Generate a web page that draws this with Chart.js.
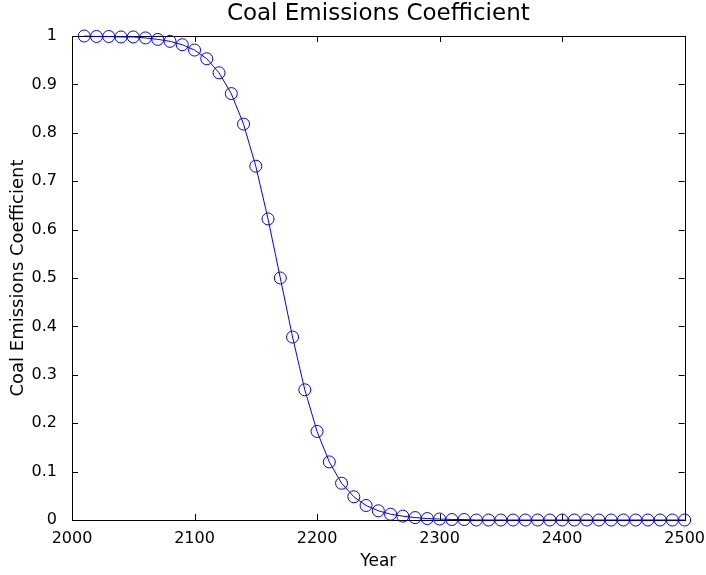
<!DOCTYPE html>
<html lang="en">
<head>
    <meta charset="UTF-8">
    <title>Coal Emissions Coefficient</title>
    <script src="https://cdn.jsdelivr.net/npm/chart.js"></script>
    <style>
        body {
            margin: 0;
            padding: 0;
            background-color: #fff;
        }
        #wrap {
            width: 706px;
            height: 575px;
        }
    </style>
</head>
<body>
    <div id="wrap">
        <canvas id="coalChart" width="706" height="575"></canvas>
    </div>

    <script>
        // data (one point every 10 years)
        const years = [
            2010, 2020, 2030, 2040, 2050, 2060, 2070, 2080, 2090, 2100,
            2110, 2120, 2130, 2140, 2150, 2160, 2170, 2180, 2190, 2200,
            2210, 2220, 2230, 2240, 2250, 2260, 2270, 2280, 2290, 2300,
            2310, 2320, 2330, 2340, 2350, 2360, 2370, 2380, 2390, 2400,
            2410, 2420, 2430, 2440, 2450, 2460, 2470, 2480, 2490, 2500
        ];
        const coalCoef = [
            1.000, 0.999, 0.999, 0.998, 0.998, 0.996, 0.993, 0.989, 0.982, 0.971,
            0.953, 0.924, 0.881, 0.818, 0.731, 0.622, 0.500, 0.378, 0.269, 0.183,
            0.120, 0.076, 0.048, 0.030, 0.019, 0.012, 0.008, 0.005, 0.003, 0.002,
            0.001, 0.001, 0.000, 0.000, 0.000, 0.000, 0.000, 0.000, 0.000, 0.000,
            0.000, 0.000, 0.000, 0.000, 0.000, 0.000, 0.000, 0.000, 0.000, 0.000
        ];
        const xTicks = [2000, 2100, 2200, 2300, 2400, 2500];
        const yTicks = [0, 0.1, 0.2, 0.3, 0.4, 0.5, 0.6, 0.7, 0.8, 0.9, 1];

        const FONT = "'DejaVu Sans', sans-serif";
        const BLUE = '#0000ff';

        // matlab style box with inward ticks
        const axesBox = {
            id: 'axesBox',
            beforeDatasetsDraw(chart) {
                const ctx = chart.ctx;
                const a = chart.chartArea;
                const xs = chart.scales.x;
                const ys = chart.scales.y;
                const len = 6;
                ctx.save();
                ctx.strokeStyle = '#000';
                ctx.lineWidth = 1;
                ctx.beginPath();
                xTicks.forEach(v => {
                    const px = Math.round(xs.getPixelForValue(v)) + 0.5;
                    ctx.moveTo(px, a.bottom);
                    ctx.lineTo(px, a.bottom - len);
                    ctx.moveTo(px, a.top);
                    ctx.lineTo(px, a.top + len);
                });
                yTicks.forEach(v => {
                    const py = Math.round(ys.getPixelForValue(v)) + 0.5;
                    ctx.moveTo(a.left, py);
                    ctx.lineTo(a.left + len, py);
                    ctx.moveTo(a.right, py);
                    ctx.lineTo(a.right - len, py);
                });
                ctx.stroke();
                ctx.strokeRect(Math.round(a.left) + 0.5, Math.round(a.top) + 0.5,
                    Math.round(a.right - a.left), Math.round(a.bottom - a.top));
                ctx.restore();
            }
        };

        const ctx = document.getElementById('coalChart').getContext('2d');
        const coalChart = new Chart(ctx, {
            type: 'line',
            data: {
                datasets: [{
                    label: 'Coal Emissions Coefficient',
                    data: years.map((y, i) => ({ x: y, y: coalCoef[i] })),
                    borderColor: BLUE,
                    borderWidth: 1,
                    backgroundColor: 'rgba(0,0,0,0)',
                    pointStyle: 'circle',
                    pointRadius: 6,
                    pointBorderWidth: 1,
                    pointBorderColor: BLUE,
                    pointBackgroundColor: 'rgba(0,0,0,0)',
                    tension: 0,
                    fill: false,
                    clip: false
                }]
            },
            options: {
                responsive: false,
                animation: false,
                layout: {
                    padding: { left: 0, right: 18, top: 0, bottom: 0 }
                },
                plugins: {
                    legend: { display: false },
                    tooltip: { enabled: false },
                    title: {
                        display: true,
                        fullSize: false,
                        text: 'Coal Emissions Coefficient',
                        color: '#000',
                        font: { family: FONT, size: 23, weight: 'normal', lineHeight: 1.2 },
                        padding: { top: 0.5, bottom: 7.9 }
                    }
                },
                scales: {
                    x: {
                        type: 'linear',
                        min: 2000,
                        max: 2500,
                        grid: { display: false },
                        border: { display: false },
                        afterBuildTicks: scale => {
                            scale.ticks = xTicks.map(v => ({ value: v }));
                        },
                        afterFit: scale => { scale.height = 55; },
                        ticks: {
                            color: '#000',
                            padding: 1,
                            maxRotation: 0,
                            font: { family: FONT, size: 16 },
                            callback: v => String(v)
                        },
                        title: {
                            display: true,
                            text: 'Year',
                            color: '#000',
                            font: { family: FONT, size: 17 },
                            padding: { top: 0, bottom: 3 }
                        }
                    },
                    y: {
                        min: 0,
                        max: 1,
                        grid: { display: false },
                        border: { display: false },
                        afterBuildTicks: scale => {
                            scale.ticks = yTicks.map(v => ({ value: v }));
                        },
                        afterFit: scale => { scale.width = 72; },
                        ticks: {
                            color: '#000',
                            padding: 7,
                            font: { family: FONT, size: 16 },
                            callback: v => String(v)
                        },
                        title: {
                            display: true,
                            text: 'Coal Emissions Coefficient',
                            color: '#000',
                            font: { family: FONT, size: 18 },
                            padding: { top: 8, bottom: 0 }
                        }
                    }
                }
            },
            plugins: [axesBox]
        });
    </script>
</body>
</html>
